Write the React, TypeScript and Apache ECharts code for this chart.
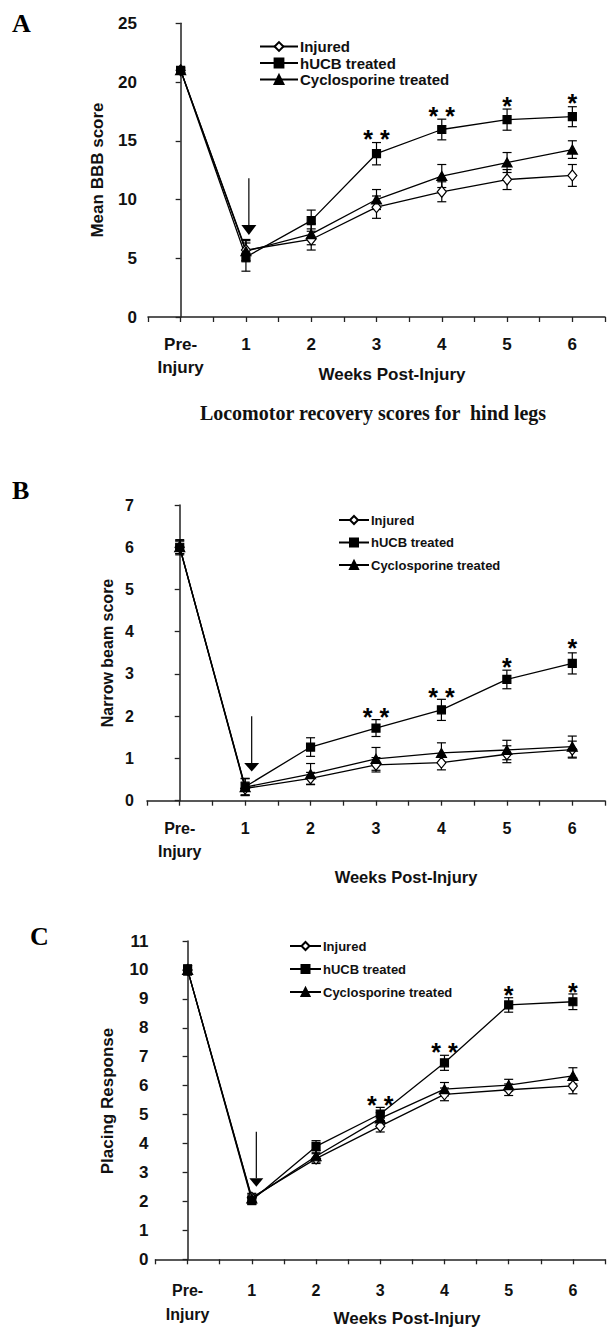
import React, { useEffect, useRef } from "react";
import * as echarts from "echarts";

// ---------- data ----------
const xLabels = ["Pre-\nInjury", "1", "2", "3", "4", "5", "6"];
const seriesNames = ["Injured", "hUCB treated", "Cyclosporine treated"];

// Panel A: Mean BBB score
const injuredA = [21, 5.7, 6.6, 9.35, 10.66, 11.7, 12.05];
const injuredErrA = [0.2, 0.9, 0.9, 0.95, 0.85, 0.85, 0.93];
const hucbA = [21, 5.1, 8.2, 13.9, 15.96, 16.8, 17.05];
const hucbErrA = [0.2, 1.2, 0.9, 0.95, 0.88, 0.9, 0.85];
const cycloA = [21, 5.6, 7.05, 10.0, 12.0, 13.15, 14.25];
const cycloErrA = [0.2, 0.9, 0.9, 0.85, 0.98, 0.85, 0.75];
const starsA: [number, number, string][] = [
  [3, 15.6, "* *"],
  [4, 17.5, "* *"],
  [5, 18.4, "*"],
  [6, 18.6, "*"],
];
const arrowA = [1.045, 11.8, 6.97];

// Panel B: Narrow beam score
const injuredB = [6.0, 0.29, 0.53, 0.85, 0.9, 1.1, 1.21];
const injuredErrB = [0.15, 0.15, 0.14, 0.17, 0.17, 0.2, 0.2];
const hucbB = [6.0, 0.33, 1.27, 1.72, 2.15, 2.87, 3.25];
const hucbErrB = [0.18, 0.2, 0.22, 0.2, 0.25, 0.22, 0.25];
const cycloB = [6.0, 0.32, 0.63, 0.99, 1.13, 1.2, 1.28];
const cycloErrB = [0.15, 0.2, 0.25, 0.27, 0.24, 0.23, 0.25];
const starsB: [number, number, string][] = [
  [3, 2.1, "* *"],
  [4, 2.58, "* *"],
  [5, 3.28, "*"],
  [6, 3.73, "*"],
];
const arrowB = [1.1, 2.0, 0.69];

// Panel C: Placing Response
const injuredC = [10.0, 2.13, 3.48, 4.6, 5.7, 5.86, 5.99];
const injuredErrC = [0.15, 0.15, 0.17, 0.2, 0.22, 0.2, 0.27];
const hucbC = [10.0, 2.04, 3.9, 5.02, 6.79, 8.79, 8.9];
const hucbErrC = [0.18, 0.15, 0.2, 0.23, 0.26, 0.25, 0.27];
const cycloC = [10.0, 2.1, 3.56, 4.87, 5.88, 6.02, 6.34];
const cycloErrC = [0.15, 0.15, 0.2, 0.2, 0.23, 0.2, 0.28];
const starsC: [number, number, string][] = [
  [3, 5.5, "* *"],
  [4, 7.34, "* *"],
  [5, 9.3, "*"],
  [6, 9.4, "*"],
];
const arrowC = [1.07, 4.41, 2.51];

const yNames = ["Mean BBB score", "Narrow beam score", "Placing Response"];
const xName = "Weeks Post-Injury";
const caption = "Locomotor recovery scores for  hind legs";
const panelLetters = ["A", "B", "C"];

// ---------- layout / style ----------
const SANS = "Liberation Sans, Arial, sans-serif";
const SERIF = "Liberation Serif, Times New Roman, serif";
const INK = "#111";

const layouts = [
  {
    grid: { left: 148, top: 23.3, width: 462, height: 293.7 },
    yMax: 25, yInt: 5, xSize: 17, ySize: 17, yMargin: 11, xMargin: 16, lh: 23,
    yNamePos: [97, 170], yNameSize: 17,
    xNamePos: [392, 374.3], xNameSize: 17,
    legend: { left: 259, top: 38.5, itemWidth: 38, itemHeight: 11, fontSize: 15, lineHeight: 16, itemGap: 0.5 },
    headH: 10, headW: 7.5,
    letterPos: [12, 23],
  },
  {
    grid: { left: 147, top: 505, width: 462, height: 295.7 },
    yMax: 7, yInt: 1, xSize: 16, ySize: 16, yMargin: 13, xMargin: 16, lh: 23,
    yNamePos: [107, 653], yNameSize: 16,
    xNamePos: [406, 877], xNameSize: 16.5,
    legend: { left: 338, top: 513, itemWidth: 30, itemHeight: 10, fontSize: 13, lineHeight: 14, itemGap: 8.5 },
    headH: 8.5, headW: 7.5,
    letterPos: [12, 490],
  },
  {
    grid: { left: 155.5, top: 941, width: 462, height: 318.3 },
    yMax: 11, yInt: 1, xSize: 16, ySize: 17, yMargin: 7, xMargin: 19, lh: 24,
    yNamePos: [107, 1101], yNameSize: 17,
    xNamePos: [407, 1318], xNameSize: 17,
    legend: { left: 289, top: 939, itemWidth: 31, itemHeight: 10, fontSize: 13, lineHeight: 14, itemGap: 9 },
    headH: 8.5, headW: 7,
    letterPos: [30, 936],
  },
];

const panelData = [
  { injured: injuredA, injuredErr: injuredErrA, hucb: hucbA, hucbErr: hucbErrA, cyclo: cycloA, cycloErr: cycloErrA, stars: starsA, arrow: arrowA },
  { injured: injuredB, injuredErr: injuredErrB, hucb: hucbB, hucbErr: hucbErrB, cyclo: cycloB, cycloErr: cycloErrB, stars: starsB, arrow: arrowB },
  { injured: injuredC, injuredErr: injuredErrC, hucb: hucbC, hucbErr: hucbErrC, cyclo: cycloC, cycloErr: cycloErrC, stars: starsC, arrow: arrowC },
];

function buildOption() {
  const grid: any[] = [];
  const xAxis: any[] = [];
  const yAxis: any[] = [];
  const series: any[] = [];
  const legend: any[] = [];
  const graphic: any[] = [];

  layouts.forEach((L, p) => {
    const D = panelData[p];
    grid.push({ ...L.grid, containLabel: false });
    xAxis.push({
      type: "value",
      gridIndex: p,
      min: -0.5,
      max: 6.5,
      interval: 0.5,
      splitLine: { show: false },
      axisLine: { show: true, onZero: false, lineStyle: { color: "#222", width: 1.5 } },
      axisTick: { show: true, length: 5, lineStyle: { color: "#222", width: 1.3 } },
      axisLabel: {
        margin: L.xMargin,
        fontFamily: SANS,
        fontWeight: "bold",
        fontSize: L.xSize,
        lineHeight: L.lh,
        color: INK,
        formatter: (v: number) => {
          const r = Math.round(v);
          if (Math.abs(v - r) > 1e-6) return "";
          return xLabels[r] ?? "";
        },
      },
    });
    yAxis.push({
      type: "value",
      gridIndex: p,
      min: 0,
      max: L.yMax,
      interval: L.yInt,
      splitLine: { show: false },
      axisLine: { show: true, lineStyle: { color: "#222", width: 1.5 } },
      axisTick: { show: true, length: 5, lineStyle: { color: "#222", width: 1.3 } },
      axisLabel: {
        margin: L.yMargin,
        fontFamily: SANS,
        fontWeight: "bold",
        fontSize: L.ySize,
        color: INK,
      },
    });

    const groups = [
      { name: "Injured", vals: D.injured, errs: D.injuredErr, symbol: "diamond", size: [9, 11], fill: "#fff" },
      { name: "Cyclosporine treated", vals: D.cyclo, errs: D.cycloErr, symbol: "triangle", size: [10, 9], fill: "#000" },
      { name: "hUCB treated", vals: D.hucb, errs: D.hucbErr, symbol: "rect", size: [8, 8], fill: "#000" },
    ];

    groups.forEach((g) => {
      series.push({
        type: "custom",
        name: g.name + " SEM",
        xAxisIndex: p,
        yAxisIndex: p,
        silent: true,
        z: 2,
        encode: { x: 0, y: [1, 2] },
        data: g.vals.map((v, i) => [i, v - g.errs[i], v + g.errs[i]]),
        renderItem: (_params: any, api: any) => {
          const x = api.value(0);
          const lo = api.coord([x, api.value(1)]);
          const hi = api.coord([x, api.value(2)]);
          const w = 4.5;
          const st = { stroke: "#000", lineWidth: 1.2 };
          return {
            type: "group",
            children: [
              { type: "line", shape: { x1: lo[0], y1: lo[1], x2: hi[0], y2: hi[1] }, style: st },
              { type: "line", shape: { x1: lo[0] - w, y1: lo[1], x2: lo[0] + w, y2: lo[1] }, style: st },
              { type: "line", shape: { x1: hi[0] - w, y1: hi[1], x2: hi[0] + w, y2: hi[1] }, style: st },
            ],
          };
        },
      });
    });

    groups.forEach((g) => {
      series.push({
        type: "line",
        name: g.name,
        xAxisIndex: p,
        yAxisIndex: p,
        z: 3,
        data: g.vals.map((v, i) => [i, v]),
        symbol: g.symbol,
        symbolSize: g.size,
        showAllSymbol: true,
        itemStyle: { color: g.fill, borderColor: "#000", borderWidth: 1.2 },
        lineStyle: { color: "#000", width: 1.3 },
        emphasis: { disabled: true },
      });
    });

    // significance asterisks
    series.push({
      type: "custom",
      name: "sig" + p,
      xAxisIndex: p,
      yAxisIndex: p,
      silent: true,
      z: 4,
      encode: { x: 0, y: 1 },
      data: D.stars,
      renderItem: (params: any, api: any) => {
        const pt = api.coord([api.value(0), api.value(1)]);
        const txt = D.stars[params.dataIndex][2];
        return {
          type: "text",
          x: pt[0],
          y: pt[1] + 5,
          style: {
            text: txt,
            fill: "#000",
            font: `bold 25px ${SANS}`,
            align: "center",
            verticalAlign: "middle",
          },
        };
      },
    });

    // injury arrow
    series.push({
      type: "custom",
      name: "arrow" + p,
      xAxisIndex: p,
      yAxisIndex: p,
      silent: true,
      z: 4,
      encode: { x: 0, y: [1, 2] },
      data: [D.arrow],
      renderItem: (_params: any, api: any) => {
        const x = api.value(0);
        const top = api.coord([x, api.value(1)]);
        const tip = api.coord([x, api.value(2)]);
        const h = L.headH;
        const w = L.headW;
        return {
          type: "group",
          children: [
            { type: "line", shape: { x1: top[0], y1: top[1], x2: tip[0], y2: tip[1] - h }, style: { stroke: "#000", lineWidth: 1.2 } },
            {
              type: "polygon",
              shape: { points: [[tip[0] - w, tip[1] - h], [tip[0] + w, tip[1] - h], [tip[0], tip[1]]] },
              style: { fill: "#000" },
            },
          ],
        };
      },
    });

    legend.push({
      data: seriesNames,
      orient: "vertical",
      left: L.legend.left,
      top: L.legend.top,
      itemWidth: L.legend.itemWidth,
      itemHeight: L.legend.itemHeight,
      itemGap: L.legend.itemGap,
      padding: 0,
      selectedMode: false,
      textStyle: {
        fontFamily: SANS,
        fontWeight: "bold",
        fontSize: L.legend.fontSize,
        lineHeight: L.legend.lineHeight,
        color: INK,
        padding: [0, 0, 0, -3],
      },
    });

    graphic.push({
      type: "text",
      x: L.yNamePos[0],
      y: L.yNamePos[1],
      rotation: Math.PI / 2,
      style: {
        text: yNames[p],
        font: `bold ${L.yNameSize}px ${SANS}`,
        fill: INK,
        align: "center",
        verticalAlign: "middle",
      },
    });
    graphic.push({
      type: "text",
      x: L.xNamePos[0],
      y: L.xNamePos[1],
      style: {
        text: xName,
        font: `bold ${L.xNameSize}px ${SANS}`,
        fill: INK,
        align: "center",
        verticalAlign: "middle",
      },
    });
    graphic.push({
      type: "text",
      x: L.letterPos[0],
      y: L.letterPos[1],
      style: {
        text: panelLetters[p],
        font: `bold 26px ${SERIF}`,
        fill: "#000",
        align: "left",
        verticalAlign: "middle",
      },
    });
  });

  graphic.push({
    type: "text",
    x: 373,
    y: 413.3,
    style: {
      text: caption,
      font: `bold 20px ${SERIF}`,
      fill: INK,
      align: "center",
      verticalAlign: "middle",
    },
  });

  return {
    animation: false,
    backgroundColor: "#fff",
    grid,
    xAxis,
    yAxis,
    legend,
    series,
    graphic,
  };
}

export default function App() {
  const ref = useRef<HTMLDivElement>(null);
  useEffect(() => {
    if (!ref.current) return;
    const chart = echarts.init(ref.current, null, { renderer: "svg" });
    chart.setOption(buildOption() as any);
    return () => chart.dispose();
  }, []);
  return (
    <div
      ref={ref}
      style={{ position: "absolute", left: 0, top: 0, width: 608, height: 1332, background: "#fff" }}
    />
  );
}
